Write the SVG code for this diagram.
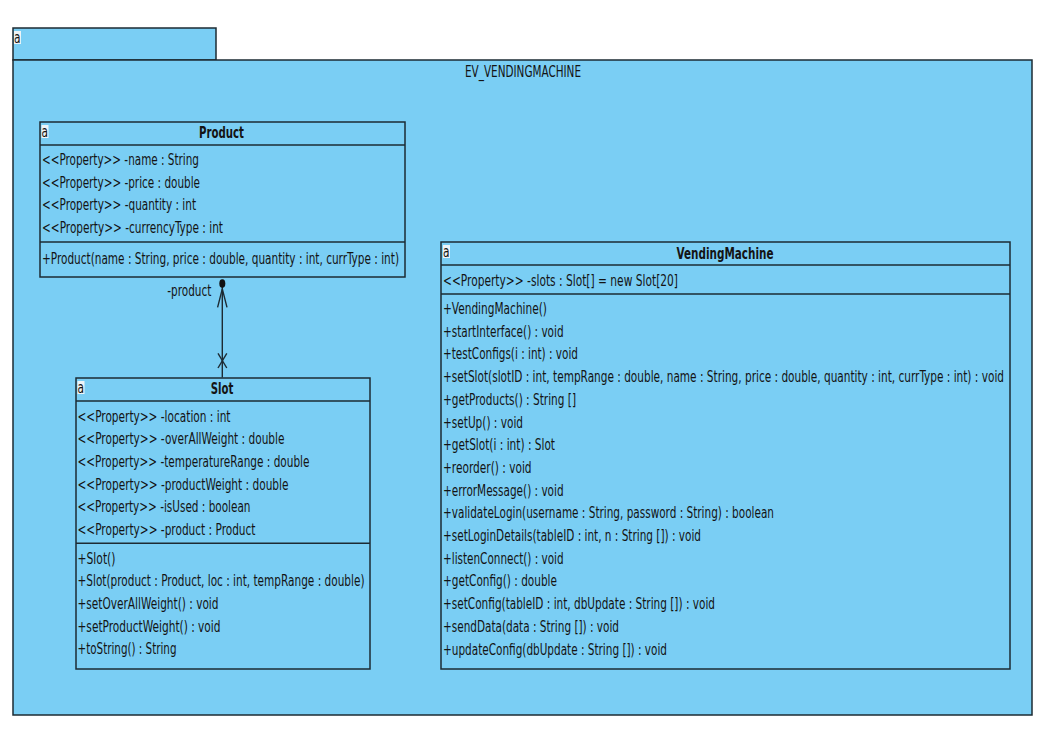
<svg xmlns="http://www.w3.org/2000/svg" width="1053" height="745" viewBox="0 0 1053 745">
<style>
.box{fill:#7acef4;stroke:#1d2b33;stroke-width:1.5}
.sep{stroke:#1d2b33;stroke-width:1.5;fill:none}
text{font-family:"DejaVu Sans Condensed","DejaVu Sans",sans-serif;font-size:15.5px;fill:#141414}
.t{font-weight:bold;text-anchor:start}
.ic{fill:#eef4f7;stroke:none}
.ict{font-size:15px}
.ln{stroke:#1d2b33;stroke-width:1.4;fill:none}
</style>
<rect x="0" y="0" width="1053" height="745" fill="#ffffff"/>
<g id="pkg-EV_VENDINGMACHINE">
<rect class="box" x="13" y="28" width="203" height="32"/>
<rect class="box" x="13" y="60" width="1019" height="655"/>
<rect class="ic" x="14" y="31" width="7" height="13"/>
<text class="ict" x="14" y="42.5" textLength="6.5" lengthAdjust="spacingAndGlyphs">a</text>
<text x="465" y="77.3" textLength="116" lengthAdjust="spacingAndGlyphs">EV_VENDINGMACHINE</text>
</g>
<g id="class-Product">
<rect class="box" x="40" y="122" width="365" height="155"/>
<line class="sep" x1="40" y1="145" x2="405" y2="145"/>
<line class="sep" x1="40" y1="242" x2="405" y2="242"/>
<rect class="ic" x="41.5" y="125" width="7" height="13"/>
<text class="ict" x="41.5" y="136.5" textLength="6.5" lengthAdjust="spacingAndGlyphs">a</text>
<text class="t" x="199" y="138" textLength="45" lengthAdjust="spacingAndGlyphs">Product</text>
<text x="42" y="165" textLength="157" lengthAdjust="spacingAndGlyphs">&lt;&lt;Property&gt;&gt; -name : String</text>
<text x="42" y="187.7" textLength="158" lengthAdjust="spacingAndGlyphs">&lt;&lt;Property&gt;&gt; -price : double</text>
<text x="42" y="210.4" textLength="154" lengthAdjust="spacingAndGlyphs">&lt;&lt;Property&gt;&gt; -quantity : int</text>
<text x="42" y="233.1" textLength="181" lengthAdjust="spacingAndGlyphs">&lt;&lt;Property&gt;&gt; -currencyType : int</text>
<text x="42" y="264" textLength="357" lengthAdjust="spacingAndGlyphs">+Product(name : String, price : double, quantity : int, currType : int)</text>
</g>
<g id="class-Slot">
<rect class="box" x="76" y="378" width="294" height="291"/>
<line class="sep" x1="76" y1="401" x2="370" y2="401"/>
<line class="sep" x1="76" y1="543.3" x2="370" y2="543.3"/>
<rect class="ic" x="77.5" y="381" width="7" height="13"/>
<text class="ict" x="77.5" y="392.5" textLength="6.5" lengthAdjust="spacingAndGlyphs">a</text>
<text class="t" x="210.7" y="394" textLength="22.6" lengthAdjust="spacingAndGlyphs">Slot</text>
<text x="77.5" y="421.5" textLength="153" lengthAdjust="spacingAndGlyphs">&lt;&lt;Property&gt;&gt; -location : int</text>
<text x="77.5" y="444.2" textLength="207" lengthAdjust="spacingAndGlyphs">&lt;&lt;Property&gt;&gt; -overAllWeight : double</text>
<text x="77.5" y="466.9" textLength="232" lengthAdjust="spacingAndGlyphs">&lt;&lt;Property&gt;&gt; -temperatureRange : double</text>
<text x="77.5" y="489.6" textLength="211" lengthAdjust="spacingAndGlyphs">&lt;&lt;Property&gt;&gt; -productWeight : double</text>
<text x="77.5" y="512.3" textLength="173" lengthAdjust="spacingAndGlyphs">&lt;&lt;Property&gt;&gt; -isUsed : boolean</text>
<text x="77.5" y="535" textLength="178" lengthAdjust="spacingAndGlyphs">&lt;&lt;Property&gt;&gt; -product : Product</text>
<text x="77.5" y="563.5" textLength="38" lengthAdjust="spacingAndGlyphs">+Slot()</text>
<text x="77.5" y="586.2" textLength="287" lengthAdjust="spacingAndGlyphs">+Slot(product : Product, loc : int, tempRange : double)</text>
<text x="77.5" y="608.9" textLength="141" lengthAdjust="spacingAndGlyphs">+setOverAllWeight() : void</text>
<text x="77.5" y="631.6" textLength="143" lengthAdjust="spacingAndGlyphs">+setProductWeight() : void</text>
<text x="77.5" y="654.3" textLength="99" lengthAdjust="spacingAndGlyphs">+toString() : String</text>
</g>
<g id="class-VendingMachine">
<rect class="box" x="441" y="242" width="569" height="427"/>
<line class="sep" x1="441" y1="265" x2="1010" y2="265"/>
<line class="sep" x1="441" y1="294" x2="1010" y2="294"/>
<rect class="ic" x="443" y="245" width="7" height="13"/>
<text class="ict" x="443" y="256.5" textLength="6.5" lengthAdjust="spacingAndGlyphs">a</text>
<text class="t" x="676.5" y="259" textLength="97" lengthAdjust="spacingAndGlyphs">VendingMachine</text>
<text x="443" y="285.5" textLength="235" lengthAdjust="spacingAndGlyphs">&lt;&lt;Property&gt;&gt; -slots : Slot[] = new  Slot[20]</text>
<text x="443" y="314" textLength="104" lengthAdjust="spacingAndGlyphs">+VendingMachine()</text>
<text x="443" y="336.7" textLength="120.6" lengthAdjust="spacingAndGlyphs">+startInterface() : void</text>
<text x="443" y="359.4" textLength="135" lengthAdjust="spacingAndGlyphs">+testConfigs(i : int) : void</text>
<text x="443" y="382.1" textLength="561" lengthAdjust="spacingAndGlyphs">+setSlot(slotID : int, tempRange : double, name : String, price : double, quantity : int, currType : int) : void</text>
<text x="443" y="404.8" textLength="133" lengthAdjust="spacingAndGlyphs">+getProducts() : String []</text>
<text x="443" y="427.5" textLength="80" lengthAdjust="spacingAndGlyphs">+setUp() : void</text>
<text x="443" y="450.2" textLength="112" lengthAdjust="spacingAndGlyphs">+getSlot(i : int) : Slot</text>
<text x="443" y="472.9" textLength="88.6" lengthAdjust="spacingAndGlyphs">+reorder() : void</text>
<text x="443" y="495.6" textLength="120.6" lengthAdjust="spacingAndGlyphs">+errorMessage() : void</text>
<text x="443" y="518.3" textLength="331" lengthAdjust="spacingAndGlyphs">+validateLogin(username : String, password : String) : boolean</text>
<text x="443" y="541" textLength="258" lengthAdjust="spacingAndGlyphs">+setLoginDetails(tableID : int, n : String []) : void</text>
<text x="443" y="563.7" textLength="120.6" lengthAdjust="spacingAndGlyphs">+listenConnect() : void</text>
<text x="443" y="586.4" textLength="114" lengthAdjust="spacingAndGlyphs">+getConfig() : double</text>
<text x="443" y="609.1" textLength="272" lengthAdjust="spacingAndGlyphs">+setConfig(tableID : int, dbUpdate : String []) : void</text>
<text x="443" y="631.8" textLength="176" lengthAdjust="spacingAndGlyphs">+sendData(data : String []) : void</text>
<text x="443" y="654.5" textLength="224" lengthAdjust="spacingAndGlyphs">+updateConfig(dbUpdate : String []) : void</text>
</g>
<g id="connectors">
<g id="assoc-Slot-Product">
<line class="ln" x1="222.3" y1="284" x2="222.3" y2="377.5"/>
<ellipse cx="222.3" cy="283.5" rx="3" ry="4.3" fill="#111"/>
<polyline class="ln" points="217.6,307.3 222.3,288.8 227,307.3"/>
<line class="ln" x1="218" y1="353.3" x2="226.8" y2="368"/>
<line class="ln" x1="226.8" y1="353.3" x2="218" y2="368"/>
<text x="167.3" y="295.5" textLength="44" lengthAdjust="spacingAndGlyphs">-product</text>
</g>
</g>
</svg>
